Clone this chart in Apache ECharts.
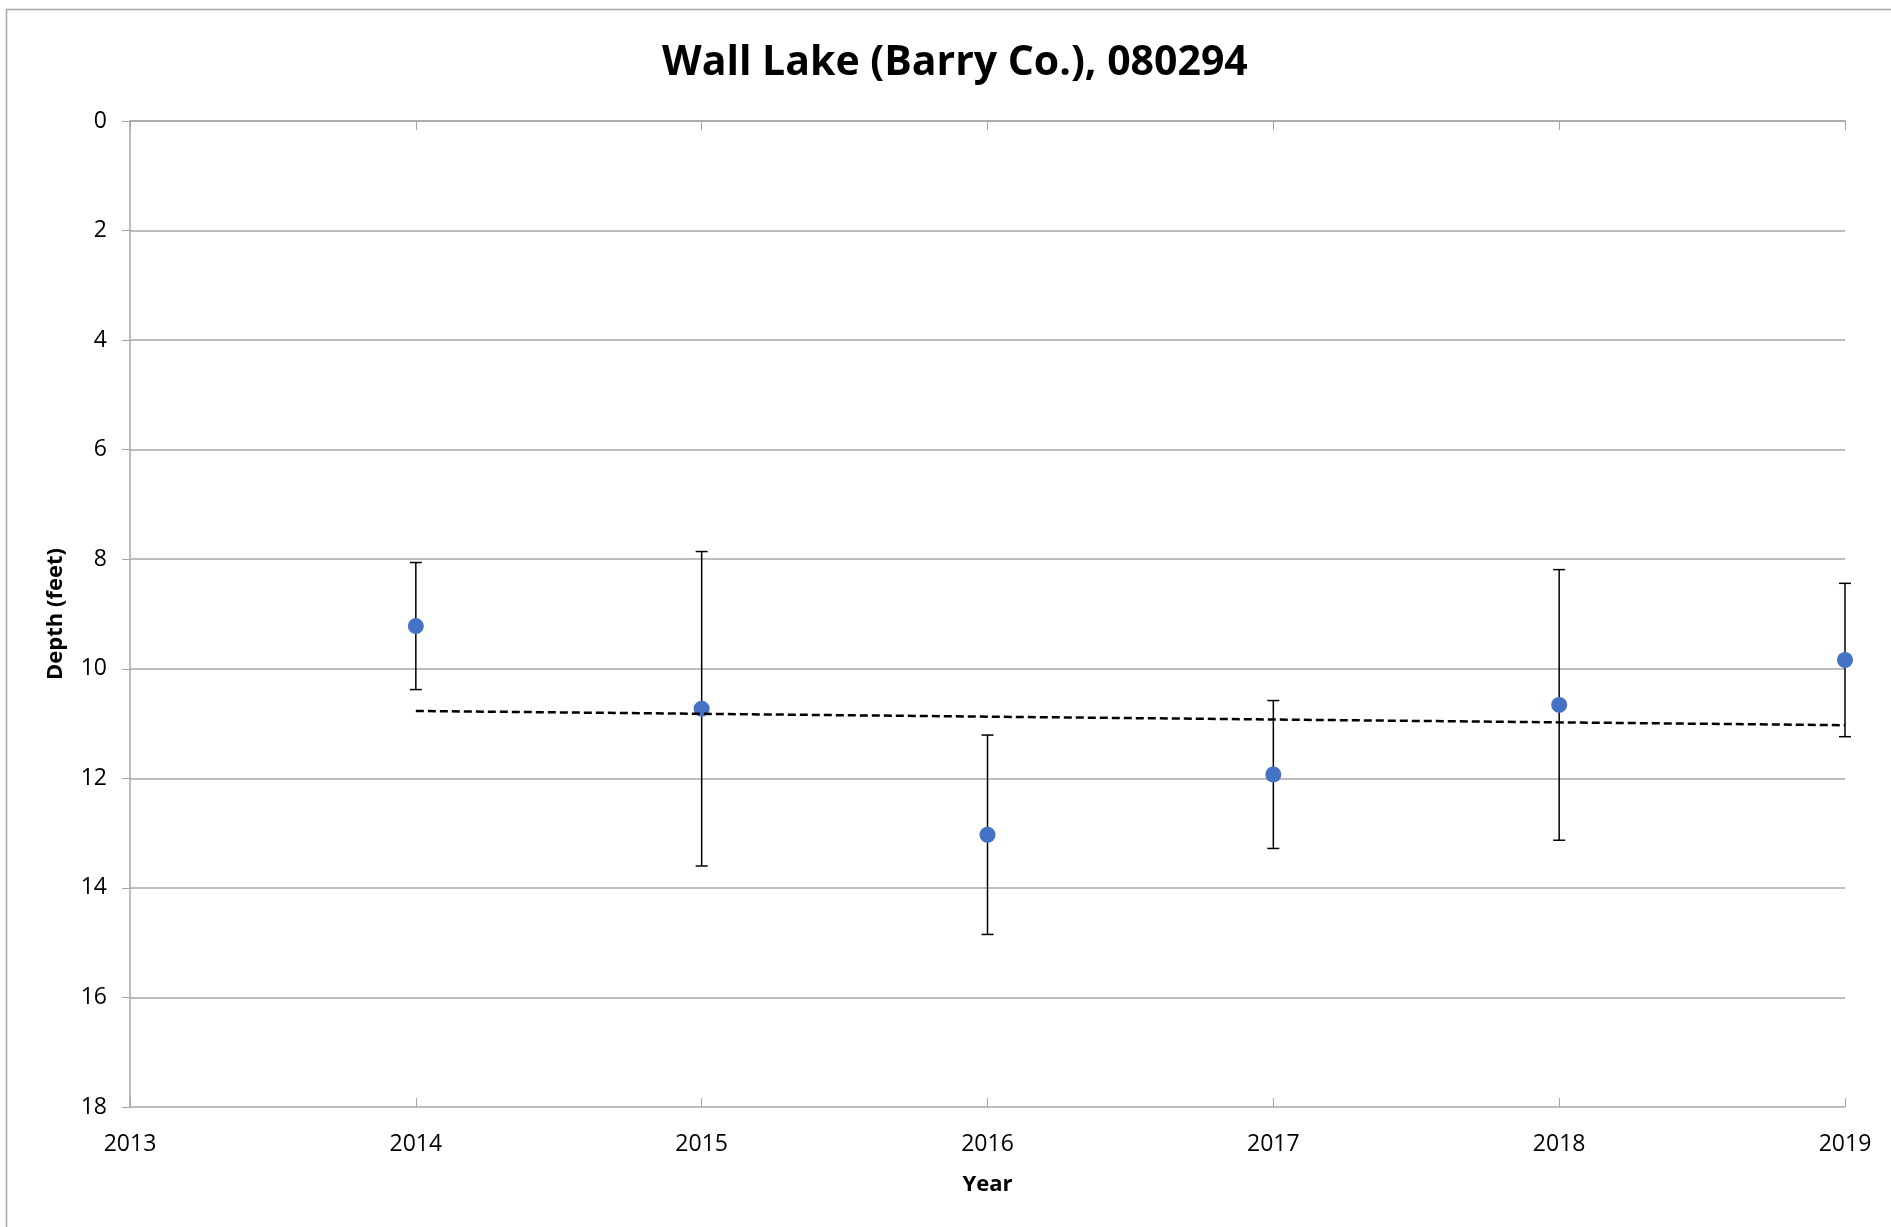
<!DOCTYPE html>
<html>
<head>
<meta charset="utf-8">
<script src="https://cdn.jsdelivr.net/npm/echarts@6/dist/echarts.min.js"></script>
<style>
html,body{margin:0;padding:0;background:#fff;}
#chart{width:1891px;height:1227px;}
</style>
</head>
<body>
<div id="chart"></div>
<script>
// ---- Data ----
const years = [2014, 2015, 2016, 2017, 2018, 2019];
const depthMean = [9.22, 10.73, 13.03, 11.93, 10.66, 9.84];
const depthSD = [1.16, 2.87, 1.82, 1.35, 2.47, 1.40];
const trendYears = [2014, 2019];
const trendDepth = [10.77, 11.03];
const xTicks = [2013, 2014, 2015, 2016, 2017, 2018, 2019];
const yTicks = [0, 2, 4, 6, 8, 10, 12, 14, 16, 18];

const FONT = '"Open Sans", "Liberation Sans", sans-serif';

const pointData = years.map((y, i) => [y, depthMean[i]]);
const errData = years.map((y, i) => [y, depthMean[i] - depthSD[i], depthMean[i] + depthSD[i]]);
const trendData = trendYears.map((y, i) => [y, trendDepth[i]]);

const chart = echarts.init(document.getElementById('chart'), null, {renderer: 'canvas'});

const option = {
  backgroundColor: '#ffffff',
  animation: false,
  title: {
    text: 'Wall Lake (Barry Co.), 080294',
    left: 657,
    top: 38,
    textStyle: {fontFamily: FONT, fontSize: 41, fontWeight: 'bold', color: '#000'}
  },
  graphic: [{
    type: 'rect',
    shape: {x: 6.5, y: 9.5, width: 1900, height: 1300},
    style: {fill: 'none', stroke: '#a6a6a6', lineWidth: 1.5},
    silent: true,
    z: -10
  }],
  grid: {left: 130, right: 46, top: 121, bottom: 120, containLabel: false},
  xAxis: [{
    type: 'value',
    min: xTicks[0],
    max: xTicks[xTicks.length - 1],
    interval: 1,
    name: 'Year',
    nameLocation: 'middle',
    nameGap: 67,
    nameTextStyle: {fontFamily: FONT, fontSize: 22, fontWeight: 'bold', color: '#000'},
    axisLine: {show: true, lineStyle: {color: '#a6a6a6', width: 1.5}},
    axisTick: {show: true, inside: false, length: 9, lineStyle: {color: '#a6a6a6', width: 1}},
    axisLabel: {fontFamily: FONT, fontSize: 23, color: '#000', margin: 26,
      formatter: v => String(v)},
    splitLine: {show: false}
  }, {
    type: 'value',
    position: 'bottom',
    min: xTicks[0],
    max: xTicks[xTicks.length - 1],
    interval: 1,
    axisLine: {show: false},
    axisTick: {show: true, inside: true, length: 9, lineStyle: {color: '#a6a6a6', width: 1}},
    axisLabel: {show: false},
    splitLine: {show: false}
  }],
  yAxis: {
    type: 'value',
    inverse: true,
    min: yTicks[0],
    max: yTicks[yTicks.length - 1],
    interval: 2,
    name: 'Depth (feet)',
    nameLocation: 'middle',
    nameGap: 63,
    nameRotate: 90,
    nameTextStyle: {fontFamily: FONT, fontSize: 22, fontWeight: 'bold', color: '#000'},
    axisLine: {show: true, lineStyle: {color: '#a6a6a6', width: 1.5}},
    axisTick: {show: true, inside: false, length: 8, lineStyle: {color: '#a6a6a6', width: 1}},
    axisLabel: {fontFamily: FONT, fontSize: 23, color: '#000', margin: 23},
    splitLine: {show: true, lineStyle: {color: '#bdbdbd', width: 2}}
  },
  series: [{
    type: 'custom',
    name: 'err',
    xAxisIndex: 0,
    data: errData,
    z: 2,
    renderItem: function (params, api) {
      const x = api.value(0);
      const top = api.coord([x, api.value(1)]);
      const bot = api.coord([x, api.value(2)]);
      const hw = 6;
      const style = {stroke: '#000', lineWidth: 1.5, fill: 'none'};
      return {
        type: 'group',
        children: [
          {type: 'line', shape: {x1: top[0], y1: top[1], x2: bot[0], y2: bot[1]}, style: style},
          {type: 'line', shape: {x1: top[0] - hw, y1: top[1], x2: top[0] + hw, y2: top[1]}, style: style},
          {type: 'line', shape: {x1: bot[0] - hw, y1: bot[1], x2: bot[0] + hw, y2: bot[1]}, style: style}
        ]
      };
    }
  }, {
    type: 'scatter',
    name: 'Depth',
    xAxisIndex: 0,
    data: pointData,
    symbol: 'circle',
    symbolSize: 16,
    itemStyle: {color: '#4472C4', opacity: 1},
    z: 3
  }, {
    type: 'line',
    name: 'Trend',
    xAxisIndex: 0,
    data: trendData,
    showSymbol: false,
    symbol: 'none',
    lineStyle: {color: '#000', width: 2.5, type: [8, 4]},
    z: 4
  }]
};

chart.setOption(option);
</script>
</body>
</html>
